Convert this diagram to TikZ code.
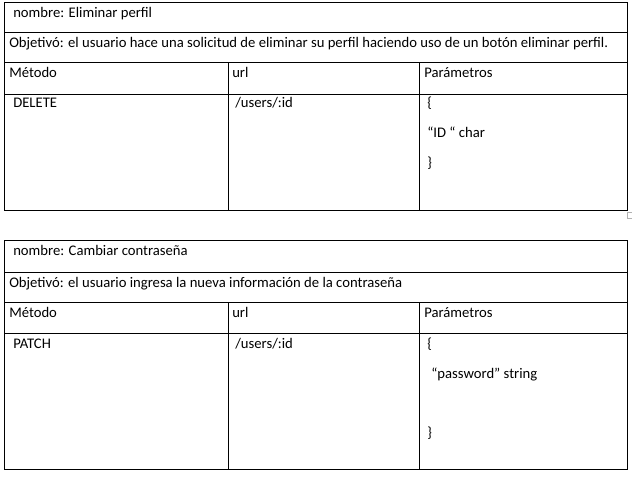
\documentclass[tikz,border=0pt]{standalone}
\usepackage{fontspec}
\setmainfont{Carlito}
\begin{document}
\begin{tikzpicture}[x=0.75pt,y=-0.75pt,
    cell/.style={anchor=base west,inner sep=0pt,font=\fontsize{11}{13}\selectfont},
    rule/.style={line width=0.75pt}]
  \useasboundingbox (0,0) rectangle (632,481);
  % tabla: eliminar perfil
  \draw[rule] (4,3) rectangle (627,211);
  \draw[rule] (4,33) -- (627,33);
  \draw[rule] (4,63) -- (627,63);
  \draw[rule] (4,95) -- (627,95);
  \draw[rule] (228,63) -- (228,211);
  \draw[rule] (419,63) -- (419,211);
  \draw[gray!60,line width=0.4pt] (627,212) rectangle (632,218);
  \node[cell] (nom1) at (13,18) {nombre: Eliminar perfil};
  \node[cell] (obj1) at (9,48) {Objetivó: el usuario hace una solicitud de eliminar su perfil haciendo uso de un botón eliminar perfil.};
  \node[cell] (met1) at (9,78) {Método};
  \node[cell] (url1) at (232,78) {url};
  \node[cell] (par1) at (424,78) {Parámetros};
  \node[cell] (del) at (13,108) {DELETE};
  \node[cell] (ruta1) at (235,108) {/users/:id};
  \node[cell] (abre1) at (427,108) {\{};
  \node[cell] (id) at (427,138) {“ID “ char};
  \node[cell] (cierra1) at (427,168) {\}};
  % tabla: cambiar contrasena
  \draw[rule] (4,241) rectangle (627,469);
  \draw[rule] (4,272) -- (627,272);
  \draw[rule] (4,302) -- (627,302);
  \draw[rule] (4,333) -- (627,333);
  \draw[rule] (228,302) -- (228,469);
  \draw[rule] (419,302) -- (419,469);
  \node[cell] (nom2) at (13,256) {nombre: Cambiar contraseña};
  \node[cell] (obj2) at (9,287) {Objetivó: el usuario ingresa la nueva información de la contraseña};
  \node[cell] (met2) at (9,317) {Método};
  \node[cell] (url2) at (232,317) {url};
  \node[cell] (par2) at (424,317) {Parámetros};
  \node[cell] (patch) at (13,348) {PATCH};
  \node[cell] (ruta2) at (235,348) {/users/:id};
  \node[cell] (abre2) at (427,348) {\{};
  \node[cell] (pass) at (431,378) {“password” string};
  \node[cell] (cierra2) at (427,437) {\}};
\end{tikzpicture}
\end{document}
